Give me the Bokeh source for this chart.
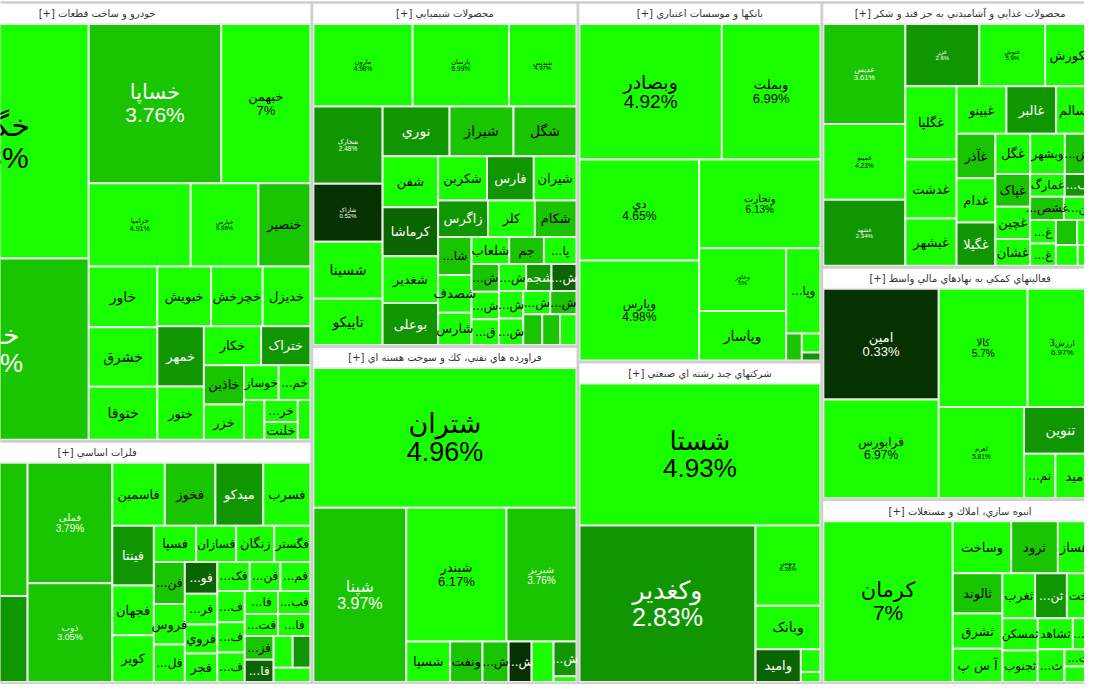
from bokeh.plotting import figure
from bokeh.models import Range1d, ColumnDataSource
from bokeh.embed import file_html
from bokeh.resources import INLINE
from bokeh.core.properties import value, field

# ---------------- data (sizes = market weight, change in %) ----------------
# The picture is a crop of a larger market map: the last entry stands for the
# sectors that lie beyond the right edge of the view.
SECTOR_NAMES = [
    "خودرو و ساخت قطعات",
    "فلزات اساسي",
    "محصولات شيميايي",
    "فراورده هاي نفتي، كك و سوخت هسته اي",
    "بانكها و موسسات اعتباري",
    "شركتهاي چند رشته اي صنعتي",
    "محصولات غذايي و آشاميدني به جز قند و شكر",
    "فعاليتهاي كمكي به نهادهاي مالي واسط",
    "انبوه سازي، املاك و مستغلات",
    "ساير صنايع",
]
SECTOR_SIZE = [195764, 108128, 95040, 93150, 91080, 81428, 76016, 66759, 52734, 338742]

KHODRO_SYMBOLS = ["خگستر", "خودرو", "خساپا", "خبهمن", "خزامیا", "خپارس", "خنصیر", "خاور", "خشرق", "ختوقا",
                  "خبویش", "خچرخش", "خدیزل", "خمهر", "ختور", "خکار", "ختراک", "خاذین", "خزر", "خوساز",
                  "خمحور", "خفنر", "خرینگ", "خلنت", "خکمک"]
KHODRO_SIZE = [50128, 38688, 22000, 14800, 8840, 5865, 4505, 4340, 4270, 3780,
               3348, 3224, 2976, 2914, 2585, 2320, 2000, 1640, 1476, 1260,
               1152, 840, 760, 620, 520]
KHODRO_CHANGE = [4.98, 3.46, 3.76, 7, 4.91, 6.98, 3.6, 5.1, 4.8, 5.3,
                 6.1, 5.6, 4.9, 2.6, 5.0, 4.7, 2.4, 3.7, 5.2, 4.6,
                 4.9, 4.6, 4.8, 4.7, 4.6]

METAL_SYMBOLS = ["فولاد", "فخاس", "فملی", "ذوب", "فاسمین", "فخوز", "میدکو", "فسرب", "فینتا", "فجهان",
                 "کویر", "فسپا", "فسازان", "زنگان", "فگستر", "فنوال", "فروس", "فلامی", "فولاذ", "فرزین",
                 "فروي", "فجر", "فکالا", "فنورد", "فمراد", "فروسیل", "فایرا", "فغدیر", "فاراک", "فبستم",
                 "فتوکا", "فافزا", "فزرین", "فالوم", "فلوله", "فوکا", "فباهنر"]
METAL_SIZE = [19856, 12848, 10578, 8686, 3430, 3300, 3120, 3080, 2575, 2145,
              2020, 1590, 1510, 1435, 1360, 1350, 1300, 1205, 1070, 1035,
              970, 965, 975, 920, 900, 890, 860, 840, 795, 775,
              755, 735, 710, 670, 630, 585, 545]
METAL_CHANGE = [3.3, 2.7, 3.79, 3.05, 5.0, 3.6, 2.5, 4.9, 2.6, 5.2,
                4.8, 4.9, 4.7, 5.5, 4.6, 3.6, 4.8, 4.7, 1.5, 4.9,
                5.0, 5.1, 4.9, 4.6, 4.8, 4.7, 4.9, 4.6, 4.8, 4.7,
                4.5, 4.9, 3.6, 1.6, 4.8, 2.5, 4.6]

CHEM_SYMBOLS = ["مارون", "پارسان", "شپدیس", "شخارک", "شاراک", "شسینا", "تاپیکو", "نوري", "شیراز", "شگل",
                "شفن", "کرماشا", "شغدیر", "بوعلی", "شکربن", "فارس", "شیران", "زاگرس", "کلر", "شکام",
                "شاروم", "شصدف", "شارس", "شلعاب", "جم", "پارسیان", "شپترو", "شفارس", "قنیشا", "شبصیر",
                "شجم", "شرانل", "شملی", "شپارس", "شتوکا", "شدوص", "شنفت", "شاملا", "شصفها"]
CHEM_SIZE = [8400, 8148, 5712, 5467, 4118, 4047, 3266, 3400, 3250, 3200,
             2900, 2780, 2665, 2380, 2220, 2125, 1940, 1865, 1750, 1555,
             1300, 1290, 1100, 1040, 960, 900, 780, 770, 720, 750,
             700, 690, 680, 660, 640, 620, 600, 560, 520]
CHEM_CHANGE = [4.98, 6.99, 4.97, 2.48, 0.52, 5.3, 5.1, 2.5, 3.6, 3.6,
               5.0, 1.6, 5.2, 2.6, 4.9, 2.7, 5.3, 2.6, 5.1, 3.6,
               3.6, 4.9, 5.0, 4.9, 3.6, 5.0, 3.6, 5.0, 5.1, 4.9,
               2.6, 1.5, 5.0, 4.8, 4.9, 3.6, 3.6, 3.6, 4.8]

OIL_SYMBOLS = ["شتران", "شپنا", "شبندر", "شبریز", "شسپا", "ونفت", "شاوان", "شراز", "شبهرن", "شپاس", "شفارا"]
OIL_SIZE = [38198, 16800, 13905, 9720, 1848, 1364, 1100, 968, 924, 828, 138]
OIL_CHANGE = [4.96, 3.97, 6.17, 3.76, 5.0, 3.6, 3.6, 0.6, 5.1, 2.4, 4.9]

BANK_SYMBOLS = ["وبصادر", "وبملت", "دي", "وپارس", "وتجارت", "وخاور", "وپاسار", "وپاداش", "وکار", "وسالت", "وزمین"]
BANK_SIZE = [19734, 13662, 12360, 12240, 10980, 5600, 4400, 2988, 432, 361, 152]
BANK_CHANGE = [4.92, 6.99, 4.65, 4.98, 6.13, 5, 5.2, 4.9, 3.6, 5.0, 2.4]

MULTI_SYMBOLS = ["شستا", "وکغدیر", "وبهمن", "وبانک", "وامید", "وصنا", "وسپه"]
MULTI_SIZE = [35136, 28336, 5346, 2904, 1530, 460, 200]
MULTI_CHANGE = [4.93, 2.83, 6.36, 5.1, 1.6, 5.0, 4.9]

FOOD_SYMBOLS = ["غدیس", "غمینو", "غشهد", "غزر", "غنوش", "غکورش", "غگلپا", "غدشت", "غبشهر", "غبینو",
                "غالبر", "غسالم", "غآذر", "غدام", "غگیلا", "غگل", "وبشهر", "غشهداب", "غپاک", "غچین",
                "غشان", "غمارگ", "غفارس", "غشصفا", "غنیلی", "غصینو", "غاذر", "غشوکو", "غسینا", "غزاگرس", "غپونه"]
FOOD_SIZE = [8300, 6308, 5478, 4672, 4160, 3264, 3800, 3070, 2450, 2400,
             2390, 1960, 1740, 1740, 1700, 1420, 1410, 1300, 1150, 1140,
             940, 800, 740, 790, 770, 620, 580, 540, 500, 460, 400]
FOOD_CHANGE = [3.61, 4.23, 2.34, 2.6, 5.9, 5.5, 5.2, 5.0, 4.9, 5.1,
               2.5, 4.8, 3.6, 5.0, 2.6, 4.9, 4.7, 3.6, 3.6, 5.0,
               4.8, 4.9, 2.6, 3.6, 4.9, 4.8, 4.7, 3.6, 4.9, 4.7, 5.0]

AUX_SYMBOLS = ["امین", "فرابورس", "کالا", "ارزش3", "اهرم", "تنوین", "تمسکن", "امید"]
AUX_SIZE = [13108, 11716, 10800, 8400, 7990, 3478, 1440, 1900]
AUX_CHANGE = [0.33, 6.97, 5.7, 6.97, 5.81, 2.5, 5.0, 5.1]

BUILD_SYMBOLS = ["کرمان", "وساخت", "ثرود", "وهساز", "ثالوند", "ثشرق", "آ س پ", "ثغرب", "ثنوسا", "ثاخت",
                 "ثمسکن", "ثجنوب", "ثشاهد", "ثبهساز", "ثعمرا", "ثتران", "ثامید"]
BUILD_SIZE = [20955, 3060, 2448, 2040, 2009, 1764, 1666, 1476, 1435, 1350,
              1155, 1122, 1102, 754, 880, 560, 504]
BUILD_CHANGE = [7, 5.2, 3.6, 5.0, 3.6, 5.1, 4.9, 5.0, 2.6, 4.8,
                5.0, 4.9, 4.7, 4.8, 4.9, 4.6, 4.8]

SECTOR_DATA = [
    (KHODRO_SYMBOLS, KHODRO_SIZE, KHODRO_CHANGE),
    (METAL_SYMBOLS, METAL_SIZE, METAL_CHANGE),
    (CHEM_SYMBOLS, CHEM_SIZE, CHEM_CHANGE),
    (OIL_SYMBOLS, OIL_SIZE, OIL_CHANGE),
    (BANK_SYMBOLS, BANK_SIZE, BANK_CHANGE),
    (MULTI_SYMBOLS, MULTI_SIZE, MULTI_CHANGE),
    (FOOD_SYMBOLS, FOOD_SIZE, FOOD_CHANGE),
    (AUX_SYMBOLS, AUX_SIZE, AUX_CHANGE),
    (BUILD_SYMBOLS, BUILD_SIZE, BUILD_CHANGE),
    ([], [], []),
]

# ---------------- style ----------------
# cells whose label shows "name / change%" (font px)
PCT_LABEL_PX = {
    "خگستر": 30, "خودرو": 26, "خساپا": 21, "خبهمن": 13, "خزامیا": 7, "خپارس": 6,
    "فولاد": 18, "فخاس": 16, "فملی": 10, "ذوب": 9,
    "مارون": 6.5, "پارسان": 6.5, "شپدیس": 6, "شخارک": 6.5, "شاراک": 6,
    "شتران": 27, "شپنا": 16, "شبندر": 13, "شبریز": 10,
    "وبصادر": 19, "وبملت": 13, "دي": 12, "وپارس": 12, "وتجارت": 10, "وخاور": 6,
    "شستا": 26, "وکغدیر": 25, "وبهمن": 6,
    "غدیس": 7.5, "غمینو": 6.5, "غشهد": 6, "غزر": 6, "غنوش": 6,
    "امین": 13, "فرابورس": 12, "کالا": 10, "ارزش3": 8, "اهرم": 6.5,
    "کرمان": 21,
}
TREEMAP_BOX = (-120.0, 2.0, 1600.0, 699.0)   # the view shows x 0..1100, y 0..700 of it
HEADER_H = 22.0
INSET = 1.5
NAME_FONT = "DejaVu Sans"
NUM_FONT = "Liberation Sans"


def cell_color(p):
    if p >= 4:
        return "#1aff00"
    if p >= 3:
        return "#19c400"
    if p >= 2:
        return "#109600"
    if p >= 1:
        return "#0a6400"
    return "#053200"


def squarify(vals, x0, y0, x1, y1):
    n = len(vals)
    out = [None] * n
    remaining = float(sum(vals))
    i0 = 0
    while i0 < n:
        dx, dy = x1 - x0, y1 - y0
        i1 = i0
        s = float(vals[i1])
        i1 += 1
        vmin = vmax = s
        alpha = max(dy / dx, dx / dy) / remaining
        beta = s * s * alpha
        best = max(vmax / beta, beta / vmin)
        while i1 < n:
            v = float(vals[i1])
            s2 = s + v
            mn, mx = min(vmin, v), max(vmax, v)
            beta = s2 * s2 * alpha
            r = max(mx / beta, beta / mn)
            if r > best:
                break
            s, vmin, vmax, best = s2, mn, mx, r
            i1 += 1
        if dx < dy:
            h = dy * s / remaining
            xx = x0
            for k in range(i0, i1):
                w = dx * vals[k] / s
                out[k] = (xx, y0, xx + w, y0 + h)
                xx += w
            y0 += h
        else:
            w = dx * s / remaining
            yy = y0
            for k in range(i0, i1):
                h = dy * vals[k] / s
                out[k] = (x0, yy, x0 + w, yy + h)
                yy += h
            x0 += w
        remaining -= s
        i0 = i1
    return out


def name_label(name, w, h):
    base = 14 if (w >= 60 and h >= 40) else 13
    for fs in (base, 12):
        if 0.48 * fs * len(name) <= w - 6 and h >= fs + 4:
            return name, fs
    fs = 12
    n = int((w - 6 - 0.9 * fs) / (0.48 * fs))
    if n >= 1 and h >= 16 and w >= 22:
        return "..." + name[:n], fs
    return None


# ---------------- layout ----------------
sec_rects = squarify(SECTOR_SIZE, *TREEMAP_BOX)

sec = dict(l=[], r=[], t=[], b=[])
hdr = dict(x=[], y=[], text=[])
cells = dict(l=[], r=[], t=[], b=[], color=[])
names = dict(x=[], y=[], text=[], fs=[], tc=[])
pcts = dict(x=[], y=[], text=[], fs=[], tc=[])

for (sx0, sy0, sx1, sy1), title, (syms, sizes, changes) in zip(sec_rects, SECTOR_NAMES, SECTOR_DATA):
    sec["l"].append(sx0); sec["r"].append(sx1); sec["t"].append(sy0); sec["b"].append(sy1)
    if not sizes:
        continue
    hdr["x"].append((sx0 + sx1) / 2); hdr["y"].append(sy0 + HEADER_H / 2 + 0.5)
    hdr["text"].append("[+] " + title)
    rects = squarify(sizes, sx0 + INSET, sy0 + HEADER_H, sx1 - INSET, sy1 - INSET)
    for (x0, y0, x1, y1), sym, ch in zip(rects, syms, changes):
        cells["l"].append(x0); cells["r"].append(x1); cells["t"].append(y0); cells["b"].append(y1)
        cells["color"].append(cell_color(ch))
        w, h = x1 - x0, y1 - y0
        cx, cy = (x0 + x1) / 2, (y0 + y1) / 2
        if sym in PCT_LABEL_PX:
            fs = PCT_LABEL_PX[sym]
            tc = "white" if ch < 4 else "black"
            names["x"].append(cx); names["y"].append(cy - 0.55 * fs); names["text"].append(sym)
            names["fs"].append(f"{fs}px"); names["tc"].append(tc)
            pcts["x"].append(cx); pcts["y"].append(cy + 0.55 * fs); pcts["text"].append(f"{ch:g}%")
            pcts["fs"].append(f"{fs}px"); pcts["tc"].append(tc)
        else:
            lab = name_label(sym, w, h)
            if lab:
                tc = "white" if ch < 3 else "black"
                names["x"].append(cx); names["y"].append(cy); names["text"].append(lab[0])
                names["fs"].append(f"{lab[1]}px"); names["tc"].append(tc)

# ---------------- drawing ----------------
p = figure(width=1084, height=684, x_range=Range1d(0, 1100), y_range=Range1d(700, 0),
           output_backend="svg", toolbar_location=None, min_border=0,
           x_axis_location=None, y_axis_location=None,
           background_fill_color="white", border_fill_color="white", outline_line_color=None)
p.grid.visible = False

p.quad(left="l", right="r", top="t", bottom="b", source=ColumnDataSource(sec),
       fill_color="white", line_color=None)
p.quad(left="l", right="r", top="t", bottom="b", source=ColumnDataSource(cells),
       fill_color=field("color"), line_color="#ececec", line_width=2)
p.quad(left="l", right="r", top="t", bottom="b", source=ColumnDataSource(sec),
       fill_color=None, line_color="#cfcfcf", line_width=2.5)

p.text(x="x", y="y", text="text", source=ColumnDataSource(hdr), text_font=value(NAME_FONT),
       text_font_size="10px", text_color="#333333", text_align="center", text_baseline="middle")
p.text(x="x", y="y", text="text", source=ColumnDataSource(names), text_font=value(NAME_FONT),
       text_font_size=field("fs"), text_color=field("tc"), text_align="center", text_baseline="middle")
p.text(x="x", y="y", text="text", source=ColumnDataSource(pcts), text_font=value(NUM_FONT),
       text_font_size=field("fs"), text_color=field("tc"), text_align="center", text_baseline="middle")

open("out.html", "w").write(file_html(p, INLINE))
